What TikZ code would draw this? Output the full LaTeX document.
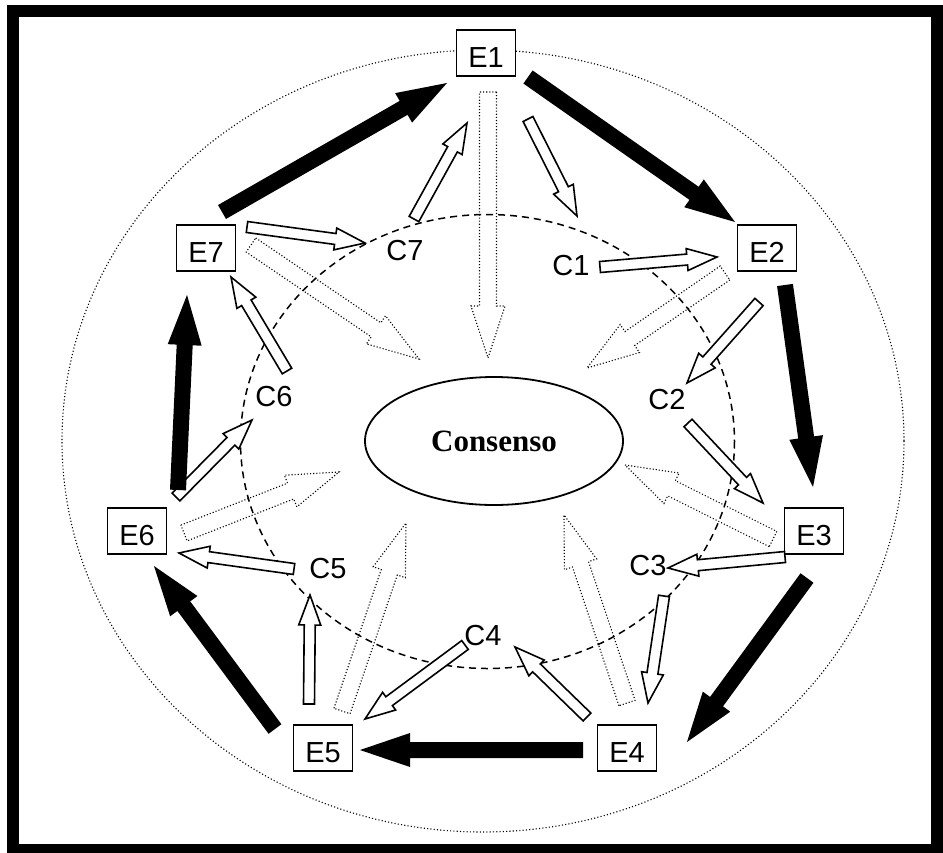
\documentclass[tikz,border=0pt]{standalone}
\usepackage{fontspec}
\setmainfont{Liberation Serif}
\newfontfamily\labelfont{Liberation Sans}
\usetikzlibrary{calc,shapes.geometric}
\newcommand\blockarr[6]{%
  \coordinate (bh) at ($(#3)!#6!(#2)$);
  \path[#1] ($(#2)!#4!90:(#3)$) -- ($(bh)!#4!90:(#3)$) -- ($(bh)!#5!90:(#3)$) -- (#3)
    -- ($(bh)!#5!-90:(#3)$) -- ($(bh)!#4!-90:(#3)$) -- ($(#2)!#4!-90:(#3)$) -- cycle;
}
\newcommand\blackarr[2]{\blockarr{blackstyle}{#1}{#2}{8pt}{17pt}{50pt}}
\newcommand\whitearr[2]{\blockarr{whitestyle}{#1}{#2}{5.5pt}{11pt}{30pt}}
\newcommand\dotarr[2]{\blockarr{dotstyle}{#1}{#2}{8.5pt}{17pt}{52pt}}
\tikzset{
  blackstyle/.style={fill=black},
  whitestyle/.style={draw=black,fill=white,line width=1.6pt,line join=miter},
  dotstyle/.style={draw=black,line width=1.1pt,dash pattern=on 1.1pt off 2pt},
  ebox/.style={draw,line width=1.8pt,fill=white,minimum width=59pt,minimum height=46pt,
    inner sep=0pt,text height=29pt,text depth=0pt,font=\labelfont\fontsize{29}{29}\selectfont},
  clabel/.style={inner sep=0pt,font=\labelfont\fontsize{29}{29}\selectfont},
}
\begin{document}
\begin{tikzpicture}[x=1pt,y=-1pt]
\useasboundingbox (0,0) rectangle (943,852);
\fill[white] (0,0) rectangle (943,852);
\draw[line width=12pt] (13,10.5) rectangle (937,850);
% outer dotted ellipse and inner dashed ellipse
\draw[line width=1.1pt,dash pattern=on 1.1pt off 2.2pt] (483,441) ellipse [x radius=421, y radius=391];
\draw[line width=1.5pt,dash pattern=on 7pt off 5pt] (487.5,441.5) ellipse [x radius=247, y radius=227];
% consensus
\node[draw,ellipse,line width=1.8pt,minimum width=258pt,minimum height=128pt,inner sep=0pt,
  font=\bfseries\fontsize{31}{31}\selectfont] (cons) at (494,441) {Consenso};
% E nodes
\node[ebox] (E1) at (486,53) {E1};
\node[ebox] (E2) at (767,248) {E2};
\node[ebox] (E3) at (814,531) {E3};
\node[ebox] (E4) at (627,748) {E4};
\node[ebox] (E5) at (323,748) {E5};
\node[ebox] (E6) at (137,531) {E6};
\node[ebox] (E7) at (206,248) {E7};
% C labels
\node[clabel] (C1) at (571,266) {C1};
\node[clabel] (C2) at (667,400) {C2};
\node[clabel] (C3) at (648,566) {C3};
\node[clabel] (C4) at (483,636) {C4};
\node[clabel] (C5) at (328,569) {C5};
\node[clabel] (C6) at (274,397) {C6};
\node[clabel] (C7) at (405,251) {C7};
% arrow end points
\coordinate (k1a) at (222,212); \coordinate (k1b) at (447,83);
\coordinate (k2a) at (528,77);  \coordinate (k2b) at (735,222);
\coordinate (k3a) at (785,285); \coordinate (k3b) at (813,487);
\coordinate (k4a) at (807,578); \coordinate (k4b) at (687,742);
\coordinate (k5a) at (583,750); \coordinate (k5b) at (360,750);
\coordinate (k6a) at (275,729); \coordinate (k6b) at (154,566);
\coordinate (k7a) at (178,490); \coordinate (k7b) at (187,295);
\coordinate (w1a) at (528,119); \coordinate (w1b) at (577,216);
\coordinate (w2a) at (600,267); \coordinate (w2b) at (717,257);
\coordinate (w3a) at (759,302); \coordinate (w3b) at (687,383);
\coordinate (w4a) at (688,423); \coordinate (w4b) at (763,503);
\coordinate (w5a) at (785,557); \coordinate (w5b) at (668,568);
\coordinate (w6a) at (664,596); \coordinate (w6b) at (648,703);
\coordinate (w7a) at (587,717); \coordinate (w7b) at (515,647);
\coordinate (w8a) at (465,645); \coordinate (w8b) at (365,719);
\coordinate (w9a) at (309,704); \coordinate (w9b) at (310,595);
\coordinate (w10a) at (294,569); \coordinate (w10b) at (179,553);
\coordinate (w11a) at (176,497); \coordinate (w11b) at (252,420);
\coordinate (w12a) at (287,371); \coordinate (w12b) at (231,277);
\coordinate (w13a) at (247,227); \coordinate (w13b) at (365,243);
\coordinate (w14a) at (414,219); \coordinate (w14b) at (467,123);
\coordinate (d1a) at (488,92);  \coordinate (d1b) at (488,358);
\coordinate (d2a) at (725,273); \coordinate (d2b) at (587,368);
\coordinate (d3a) at (773,539); \coordinate (d3b) at (625,465);
\coordinate (d4a) at (627,703); \coordinate (d4b) at (564,515);
\coordinate (d5a) at (342,711); \coordinate (d5b) at (406,523);
\coordinate (d6a) at (184,533); \coordinate (d6b) at (339,472);
\coordinate (d7a) at (251,245); \coordinate (d7b) at (419,359);
% dotted arrows towards consensus
\dotarr{d1a}{d1b}\dotarr{d2a}{d2b}\dotarr{d3a}{d3b}\dotarr{d4a}{d4b}
\dotarr{d5a}{d5b}\dotarr{d6a}{d6b}\dotarr{d7a}{d7b}
% white arrows
\whitearr{w1a}{w1b}\whitearr{w2a}{w2b}\whitearr{w3a}{w3b}\whitearr{w4a}{w4b}
\whitearr{w5a}{w5b}\whitearr{w6a}{w6b}\whitearr{w7a}{w7b}\whitearr{w8a}{w8b}
\whitearr{w9a}{w9b}\whitearr{w10a}{w10b}\whitearr{w11a}{w11b}\whitearr{w12a}{w12b}
\whitearr{w13a}{w13b}\whitearr{w14a}{w14b}
% black arrows
\blackarr{k1a}{k1b}\blackarr{k2a}{k2b}\blackarr{k3a}{k3b}\blackarr{k4a}{k4b}
\blackarr{k5a}{k5b}\blackarr{k6a}{k6b}\blackarr{k7a}{k7b}
\end{tikzpicture}
\end{document}
